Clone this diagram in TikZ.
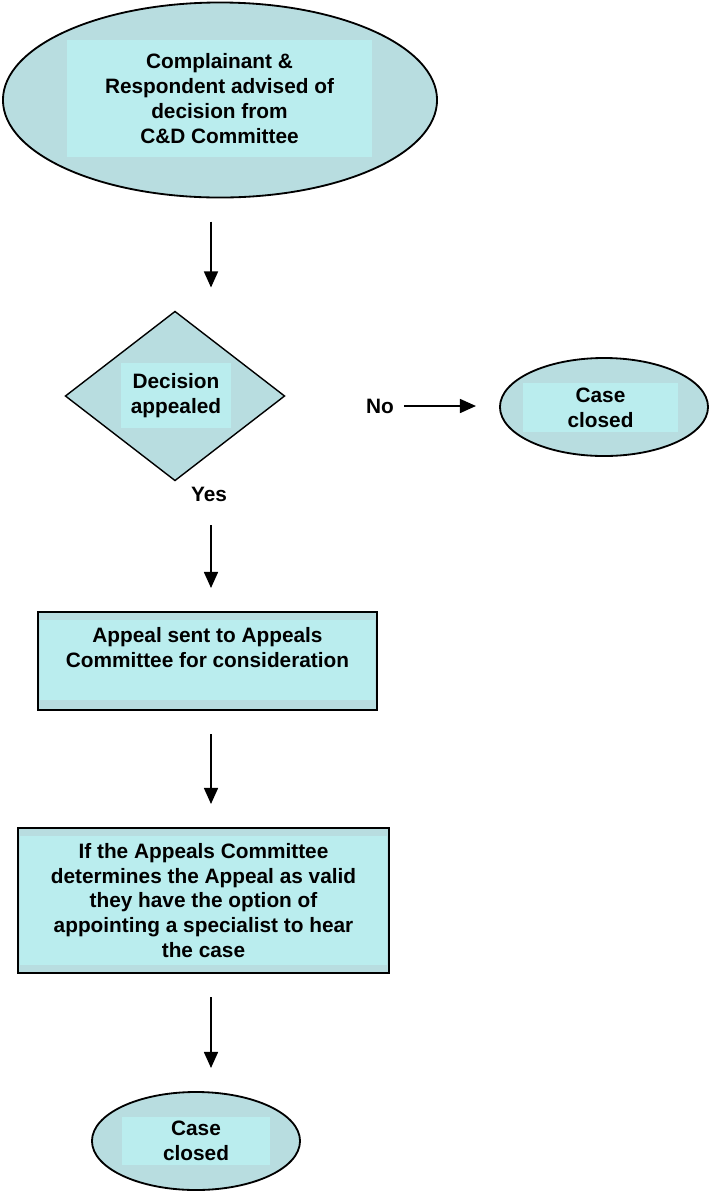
\documentclass[tikz,border=0pt]{standalone}
\usepackage{fontspec}
\setmainfont{Liberation Sans}
\usetikzlibrary{shapes.geometric,arrows.meta}
\definecolor{shapefill}{RGB}{184,221,224}
\definecolor{textfill}{RGB}{186,237,238}
\begin{document}
\begin{tikzpicture}[x=0.025cm,y=-0.025cm,every node/.style={font=\fontsize{14.8}{17.7}\selectfont\bfseries, align=center, inner sep=0pt, outer sep=0pt},
  outline/.style={draw=black, line width=1.3pt, fill=shapefill},
  textbox/.style={fill=textfill},
  flow/.style={line width=1.1pt, -{Triangle[length=0.4cm,width=0.35cm]}, shorten <=0.6cm, shorten >=0.6cm}]
\useasboundingbox (0,0) rectangle (711,1193);

\node[outline, ellipse, minimum width=10.85cm, minimum height=4.875cm] (start) at (220,100) {};
\node[textbox, minimum width=7.625cm, minimum height=2.925cm] (starttxt) at (219.5,98.5) {Complainant \&\\Respondent advised of\\decision from\\C\&D Committee};

\node[outline, diamond, line width=1pt, minimum width=5.475cm, minimum height=4.225cm] (dec) at (175,396) {};
\node[textbox, minimum width=2.75cm, minimum height=1.625cm] (dectxt) at (176,395.5) {Decision\\appealed};
\node (no) at (380,406) {No};
\node (yes) at (209,494) {Yes};

\node[outline, ellipse, minimum width=5.2cm, minimum height=2.45cm] (closedA) at (604,407) {};
\node[textbox, minimum width=3.875cm, minimum height=1.225cm] (closedAtxt) at (600.5,407.5) {Case\\closed};

\node[outline, rectangle, minimum width=8.475cm, minimum height=2.45cm] (box1) at (207.5,661) {};
\node[textbox, minimum width=8.375cm, minimum height=2cm] (box1txt) at (207.5,660) {Appeal sent to Appeals\\Committee for consideration\\\mbox{}};

\node[outline, rectangle, minimum width=9.275cm, minimum height=3.625cm] (box2) at (203.5,900.5) {};
\node[textbox, minimum width=9.175cm, minimum height=3.225cm] (box2txt) at (203.5,900.5) {If the Appeals Committee\\determines the Appeal as valid\\they have the option of\\appointing a specialist to hear\\the case};

\node[outline, ellipse, minimum width=5.2cm, minimum height=2.45cm] (closedB) at (196,1141) {};
\node[textbox, minimum width=3.7cm, minimum height=1.2cm] (closedBtxt) at (196,1141) {Case\\closed};

\coordinate (spine) at (211,0);
\draw[flow] (start.south -| spine) -- (dec.north -| spine);
\draw[flow, shorten <=0.25cm] (no.east) -- (no.east -| closedA.west);
\draw[flow] (yes.south -| spine) -- (box1.north -| spine);
\draw[flow] (box1.south -| spine) -- (box2.north -| spine);
\draw[flow] (box2.south -| spine) -- (closedB.north -| spine);
\end{tikzpicture}
\end{document}
